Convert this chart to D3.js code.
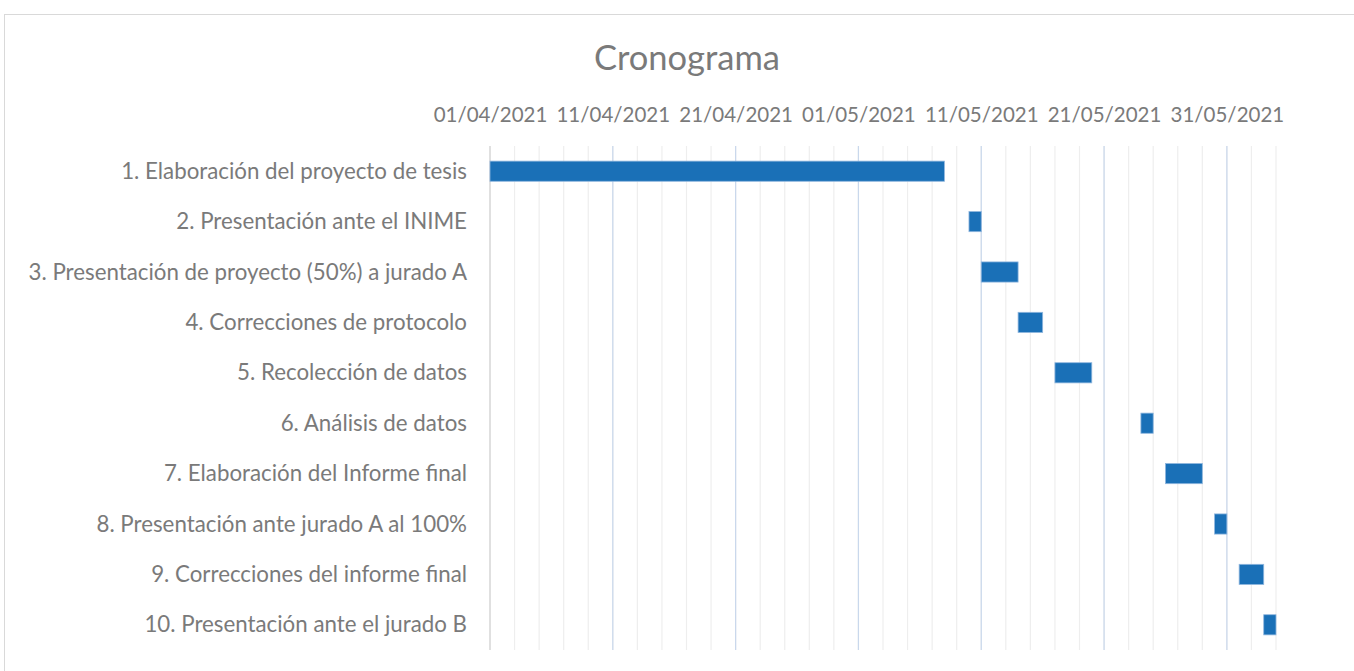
<!DOCTYPE html>
<html><head><meta charset="utf-8">
<script src="https://cdn.jsdelivr.net/npm/d3@7"></script>
<style>body{margin:0;background:#fff;} text{font-family:Lato, "Open Sans", sans-serif;}</style>
</head><body><svg id="c" width="1354" height="671"></svg>
<script>
const title = "Cronograma";
const tasks = ["1. Elaboración del proyecto de tesis","2. Presentación ante el INIME","3. Presentación de proyecto (50%) a jurado A","4. Correcciones de protocolo","5. Recolección de datos","6. Análisis de datos","7. Elaboración del Informe final","8. Presentación ante jurado A al 100%","9. Correcciones del informe final","10. Presentación ante el jurado B"];
const starts = ["2021-04-01","2021-05-10","2021-05-11","2021-05-14","2021-05-17","2021-05-24","2021-05-26","2021-05-30","2021-06-01","2021-06-03"];
const durations = [37,1,3,2,3,1,3,1,2,1];
const axisMin = "2021-04-01", axisMax = "2021-06-04";
const tickLabels = ["01/04/2021","11/04/2021","21/04/2021","01/05/2021","11/05/2021","21/05/2021","31/05/2021"];

const parse = d3.utcParse("%Y-%m-%d");
const parseTick = d3.utcParse("%d/%m/%Y");
const fmt = d3.utcFormat("%d/%m/%Y");
const svg = d3.select("#c");
const L=490, R=1276, T=146, B=650;
const x = d3.scaleUtc().domain([parse(axisMin), parse(axisMax)]).range([L,R]);
const y = d3.scaleBand().domain(tasks).range([T,B]).paddingInner(0.6).paddingOuter(0.3);

// chart border
svg.append("rect").attr("x",4.5).attr("y",14.5).attr("width",1360).attr("height",680)
  .attr("fill","none").attr("stroke","#d9d9d9").attr("stroke-width",1);

// minor grid every 2 days
const minor = d3.utcDay.range(parse(axisMin), d3.utcDay.offset(parse(axisMax),1)).filter((d,i)=>i%2===0);
svg.append("g").selectAll("line").data(minor).join("line")
  .attr("x1",d=>x(d)).attr("x2",d=>x(d)).attr("y1",T).attr("y2",B)
  .attr("stroke","#eeeeee").attr("stroke-width",1.2);
// major grid every 10 days
const major = tickLabels.map(s=>parseTick(s)).slice(1);
svg.append("g").selectAll("line").data(major).join("line")
  .attr("x1",d=>x(d)).attr("x2",d=>x(d)).attr("y1",T).attr("y2",B)
  .attr("stroke","#c9d8ec").attr("stroke-width",1.2);

// category axis line
svg.append("line").attr("x1",L).attr("x2",L).attr("y1",T).attr("y2",B).attr("stroke","#d9d9d9").attr("stroke-width",1.5);

// top axis
const ax = d3.axisTop(x).tickValues(tickLabels.map(s=>parseTick(s))).tickFormat(fmt).tickSize(0).tickPadding(0);
const gx = svg.append("g").attr("transform",`translate(0,122)`).call(ax);
gx.select(".domain").remove();
gx.selectAll("text").attr("fill","#7a7a7a").style("font-size","20.5px").attr("dy","0");

// task labels
svg.append("g").selectAll("text").data(tasks).join("text")
  .attr("x",467).attr("y",d=>y(d)+y.bandwidth()/2+7.5).attr("text-anchor","end")
  .attr("fill","#7a7a7a").style("font-size","22.3px").text(d=>d);

// bars
svg.append("g").selectAll("rect").data(tasks).join("rect")
  .attr("x",(d,i)=>x(parse(starts[i])))
  .attr("width",(d,i)=>x(d3.utcDay.offset(parse(starts[i]),durations[i]))-x(parse(starts[i])))
  .attr("y",d=>y(d)).attr("height",y.bandwidth())
  .attr("fill","#1a70b7").attr("stroke","#8fb6de").attr("stroke-width",0.8);

svg.append("text").attr("x",687).attr("y",70).attr("text-anchor","middle")
  .attr("fill","#7a7a7a").style("font-size","34.5px").text(title);
</script></body></html>
